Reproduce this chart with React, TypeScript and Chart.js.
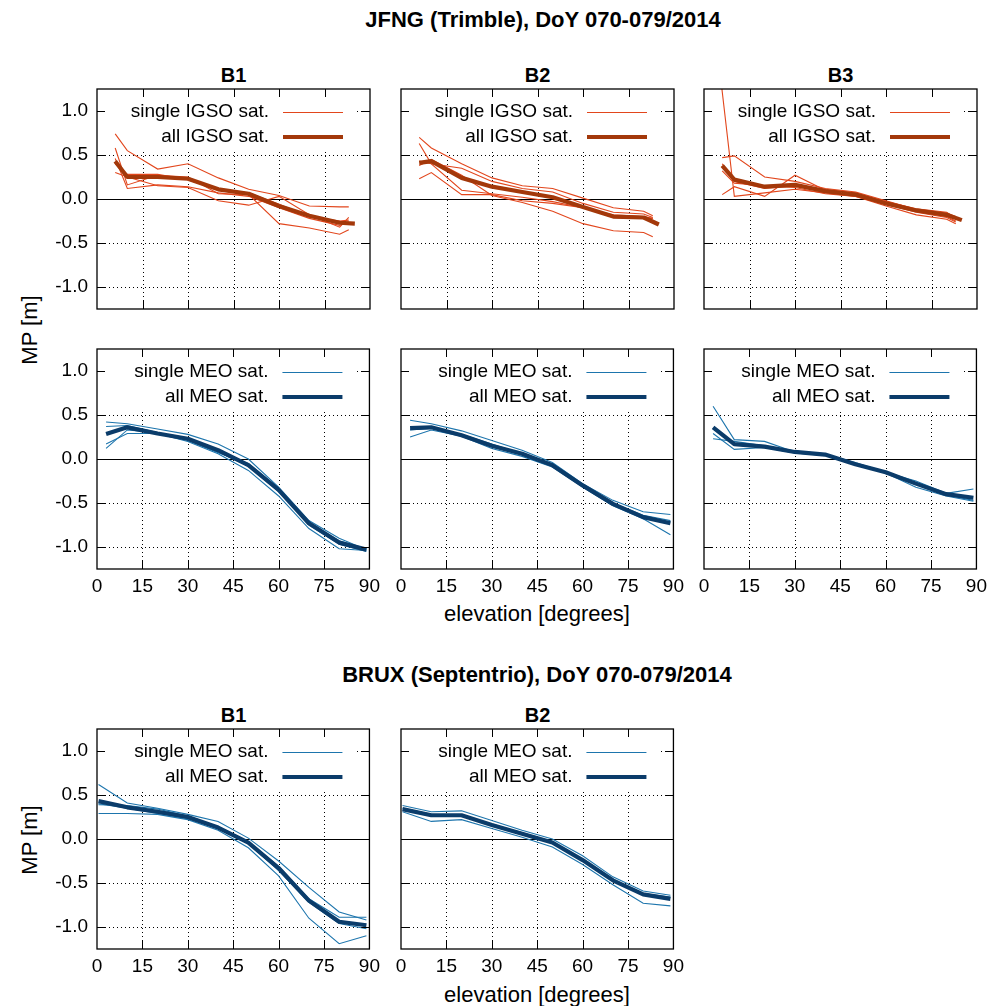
import React, { useEffect, useRef } from "react";
import { Chart, registerables } from "chart.js";

Chart.register(...registerables);

const FONT = '"Liberation Sans", Arial, Helvetica, sans-serif';

// ---------- axis ticks ----------
const elevationTicks = [0, 15, 30, 45, 60, 75, 90];
const mpTicks = [-1.0, -0.5, 0.0, 0.5, 1.0];

// ---------- JFNG (Trimble) IGSO ----------
const jfngIgsoElevAll = [6, 10, 20, 30, 40, 50, 60, 70, 80, 85];
const jfngIgsoElevSingle = [6, 10, 20, 30, 40, 50, 60, 70, 80, 83];
const jfngB3IgsoSpikeElev = [5, 10, 20, 30, 40, 50, 60, 70, 80, 83];

const jfngB1IgsoAll = [0.43, 0.25, 0.25, 0.23, 0.11, 0.06, -0.08, -0.19, -0.27, -0.28];
const jfngB1IgsoS1 = [0.74, 0.55, 0.34, 0.4, 0.24, 0.11, 0.04, -0.08, -0.09, -0.09];
const jfngB1IgsoS2 = [0.58, 0.16, 0.27, 0.25, 0.06, 0.05, -0.28, -0.33, -0.4, -0.35];
const jfngB1IgsoS3 = [0.3, 0.25, 0.15, 0.13, -0.02, -0.07, 0.03, -0.18, -0.32, -0.21];
const jfngB1IgsoS4 = [0.46, 0.12, 0.16, 0.14, 0.07, 0.03, -0.1, -0.22, -0.3, -0.26];
const jfngB1IgsoS5 = [0.4, 0.28, 0.28, 0.22, 0.1, 0.07, -0.06, -0.2, -0.25, -0.24];

const jfngB2IgsoAll = [0.41, 0.43, 0.24, 0.14, 0.08, 0.02, -0.09, -0.2, -0.21, -0.29];
const jfngB2IgsoS1 = [0.7, 0.58, 0.4, 0.24, 0.15, 0.12, 0.01, -0.1, -0.14, -0.19];
const jfngB2IgsoS2 = [0.63, 0.4, 0.1, 0.06, 0.02, -0.03, -0.1, -0.18, -0.2, -0.22];
const jfngB2IgsoS3 = [0.23, 0.3, 0.05, 0.05, -0.02, -0.05, -0.1, -0.21, -0.22, -0.22];
const jfngB2IgsoS4 = [0.38, 0.45, 0.27, 0.04, -0.04, -0.14, -0.28, -0.36, -0.38, -0.43];
const jfngB2IgsoS5 = [0.43, 0.4, 0.35, 0.2, 0.12, 0.08, -0.05, -0.15, -0.17, -0.21];

const jfngB3IgsoAll = [0.38, 0.22, 0.14, 0.16, 0.09, 0.05, -0.05, -0.13, -0.18, -0.24];
const jfngB3IgsoSpike = [1.52, 0.03, 0.07, 0.11, 0.07, 0.03, -0.06, -0.15, -0.21, -0.26];
const jfngB3IgsoS2 = [0.47, 0.49, 0.25, 0.2, 0.12, 0.08, -0.02, -0.12, -0.16, -0.2];
const jfngB3IgsoS3 = [0.05, 0.14, 0.03, 0.27, 0.1, 0.04, -0.05, -0.14, -0.2, -0.25];
const jfngB3IgsoS4 = [0.32, 0.18, 0.15, 0.13, 0.06, 0.03, -0.08, -0.18, -0.23, -0.28];
const jfngB3IgsoS5 = [0.4, 0.2, 0.12, 0.15, 0.11, 0.07, -0.03, -0.11, -0.15, -0.22];

// ---------- JFNG (Trimble) MEO ----------
const jfngMeoElev = [3, 10, 20, 30, 40, 50, 60, 70, 80, 89];

const jfngB1MeoAll = [0.285, 0.36, 0.29, 0.23, 0.1, -0.07, -0.35, -0.73, -0.95, -1.03];
const jfngB1MeoS1 = [0.42, 0.4, 0.34, 0.28, 0.17, 0.0, -0.32, -0.7, -0.9, -1.03];
const jfngB1MeoS2 = [0.37, 0.38, 0.3, 0.21, 0.07, -0.05, -0.33, -0.75, -0.97, -1.05];
const jfngB1MeoS3 = [0.17, 0.29, 0.29, 0.2, 0.06, -0.13, -0.42, -0.79, -1.02, -1.04];
const jfngB1MeoS4 = [0.12, 0.33, 0.3, 0.22, 0.08, -0.08, -0.37, -0.72, -0.93, -1.02];

const jfngB2MeoAll = [0.35, 0.36, 0.27, 0.15, 0.06, -0.07, -0.3, -0.51, -0.66, -0.73];
const jfngB2MeoS1 = [0.44, 0.4, 0.32, 0.21, 0.1, -0.04, -0.28, -0.47, -0.6, -0.63];
const jfngB2MeoS2 = [0.25, 0.33, 0.26, 0.12, 0.03, -0.09, -0.32, -0.53, -0.68, -0.86];
const jfngB2MeoS3 = [0.33, 0.35, 0.28, 0.17, 0.06, -0.06, -0.29, -0.5, -0.64, -0.7];

const jfngB3MeoAll = [0.36, 0.17, 0.14, 0.08, 0.05, -0.06, -0.15, -0.28, -0.4, -0.44];
const jfngB3MeoS1 = [0.6, 0.22, 0.2, 0.08, 0.05, -0.04, -0.15, -0.25, -0.39, -0.34];
const jfngB3MeoS2 = [0.29, 0.11, 0.13, 0.07, 0.04, -0.05, -0.16, -0.32, -0.42, -0.48];
const jfngB3MeoS3 = [0.23, 0.2, 0.15, 0.09, 0.06, -0.06, -0.15, -0.28, -0.41, -0.47];

// ---------- BRUX (Septentrio) MEO ----------
const bruxMeoElev = [0.5, 10, 20, 30, 40, 50, 60, 70, 80, 89];

const bruxB1MeoAll = [0.43, 0.36, 0.31, 0.25, 0.13, -0.04, -0.33, -0.7, -0.94, -0.98];
const bruxB1MeoS1 = [0.62, 0.41, 0.35, 0.28, 0.2, 0.01, -0.25, -0.55, -0.83, -0.92];
const bruxB1MeoS2 = [0.29, 0.29, 0.28, 0.22, 0.1, -0.1, -0.42, -0.9, -1.19, -1.1];
const bruxB1MeoS3 = [0.39, 0.38, 0.34, 0.26, 0.14, -0.03, -0.31, -0.68, -0.89, -0.89];
const bruxB1MeoS4 = [0.4, 0.35, 0.29, 0.23, 0.12, -0.05, -0.36, -0.72, -0.96, -1.02];

const bruxB2MeoAll = [0.34, 0.27, 0.27, 0.16, 0.06, -0.04, -0.24, -0.47, -0.63, -0.68];
const bruxB2MeoS1 = [0.38, 0.31, 0.32, 0.21, 0.1, 0.0, -0.19, -0.43, -0.59, -0.64];
const bruxB2MeoS2 = [0.31, 0.2, 0.22, 0.12, 0.02, -0.09, -0.29, -0.52, -0.73, -0.76];
const bruxB2MeoS3 = [0.35, 0.28, 0.27, 0.17, 0.07, -0.03, -0.23, -0.46, -0.62, -0.66];

// ---------- styles ----------
const COLORS = {
  IGSO: { thin: "#e2461c", thick: "#a3380a" },
  MEO: { thin: "#1d75ad", thick: "#0b3c6a" },
};

const PLOT_W = 273;
const PLOT_H = 220;
const AX_W = 60;
const AX_H = 40;
const PAD_T = 26;
const PAD_R = 16;
const CANVAS_W = AX_W + PLOT_W + PAD_R;
const CANVAS_H = PAD_T + PLOT_H + AX_H;

type Series = { elev: number[]; mp: number[] };
type Panel = {
  id: string;
  title: string;
  left: number;
  top: number;
  showY: boolean;
  showX: boolean;
  kind: "IGSO" | "MEO";
  elevAll: number[];
  all: number[];
  singles: Series[];
};

const colLeft = [97, 401, 704];
const rowTop = [89, 349, 729];

const panels: Panel[] = [
  {
    id: "jb1i", title: "B1", left: colLeft[0], top: rowTop[0], showY: true, showX: false, kind: "IGSO",
    elevAll: jfngIgsoElevAll, all: jfngB1IgsoAll,
    singles: [jfngB1IgsoS1, jfngB1IgsoS2, jfngB1IgsoS3, jfngB1IgsoS4, jfngB1IgsoS5].map((mp) => ({ elev: jfngIgsoElevSingle, mp })),
  },
  {
    id: "jb2i", title: "B2", left: colLeft[1], top: rowTop[0], showY: false, showX: false, kind: "IGSO",
    elevAll: jfngIgsoElevAll, all: jfngB2IgsoAll,
    singles: [jfngB2IgsoS1, jfngB2IgsoS2, jfngB2IgsoS3, jfngB2IgsoS4, jfngB2IgsoS5].map((mp) => ({ elev: jfngIgsoElevSingle, mp })),
  },
  {
    id: "jb3i", title: "B3", left: colLeft[2], top: rowTop[0], showY: false, showX: false, kind: "IGSO",
    elevAll: jfngIgsoElevAll, all: jfngB3IgsoAll,
    singles: [
      { elev: jfngB3IgsoSpikeElev, mp: jfngB3IgsoSpike },
      ...[jfngB3IgsoS2, jfngB3IgsoS3, jfngB3IgsoS4, jfngB3IgsoS5].map((mp) => ({ elev: jfngIgsoElevSingle, mp })),
    ],
  },
  {
    id: "jb1m", title: "", left: colLeft[0], top: rowTop[1], showY: true, showX: true, kind: "MEO",
    elevAll: jfngMeoElev, all: jfngB1MeoAll,
    singles: [jfngB1MeoS1, jfngB1MeoS2, jfngB1MeoS3, jfngB1MeoS4].map((mp) => ({ elev: jfngMeoElev, mp })),
  },
  {
    id: "jb2m", title: "", left: colLeft[1], top: rowTop[1], showY: false, showX: true, kind: "MEO",
    elevAll: jfngMeoElev, all: jfngB2MeoAll,
    singles: [jfngB2MeoS1, jfngB2MeoS2, jfngB2MeoS3].map((mp) => ({ elev: jfngMeoElev, mp })),
  },
  {
    id: "jb3m", title: "", left: colLeft[2], top: rowTop[1], showY: false, showX: true, kind: "MEO",
    elevAll: jfngMeoElev, all: jfngB3MeoAll,
    singles: [jfngB3MeoS1, jfngB3MeoS2, jfngB3MeoS3].map((mp) => ({ elev: jfngMeoElev, mp })),
  },
  {
    id: "bb1m", title: "B1", left: colLeft[0], top: rowTop[2], showY: true, showX: true, kind: "MEO",
    elevAll: bruxMeoElev, all: bruxB1MeoAll,
    singles: [bruxB1MeoS1, bruxB1MeoS2, bruxB1MeoS3, bruxB1MeoS4].map((mp) => ({ elev: bruxMeoElev, mp })),
  },
  {
    id: "bb2m", title: "B2", left: colLeft[1], top: rowTop[2], showY: false, showX: true, kind: "MEO",
    elevAll: bruxMeoElev, all: bruxB2MeoAll,
    singles: [bruxB2MeoS1, bruxB2MeoS2, bruxB2MeoS3].map((mp) => ({ elev: bruxMeoElev, mp })),
  },
];

function makeDecor(kind: "IGSO" | "MEO") {
  const col = COLORS[kind];
  return {
    id: "gnuplotDecor",
    beforeDatasetsDraw(chart: any) {
      const { ctx, chartArea: a, scales } = chart;
      const xs = scales.x;
      const ys = scales.y;
      ctx.save();
      ctx.strokeStyle = "#000";
      ctx.lineWidth = 1;
      ctx.setLineDash([1, 3]);
      ctx.beginPath();
      for (const v of elevationTicks) {
        if (v <= 0 || v >= 90) continue;
        const px = Math.round(xs.getPixelForValue(v)) + 0.5;
        ctx.moveTo(px, a.bottom);
        ctx.lineTo(px, a.top);
      }
      for (const v of mpTicks) {
        if (v === 0) continue;
        const py = Math.round(ys.getPixelForValue(v)) + 0.5;
        ctx.moveTo(a.left, py);
        ctx.lineTo(a.right, py);
      }
      ctx.stroke();
      ctx.setLineDash([]);
      // opaque key background hides grid
      ctx.fillStyle = "#fff";
      ctx.fillRect(a.left + 1, a.top + 1, a.right - a.left - 15, 60);
      // zero axis
      const zy = Math.round(ys.getPixelForValue(0)) + 0.5;
      ctx.beginPath();
      ctx.moveTo(a.left, zy);
      ctx.lineTo(a.right, zy);
      ctx.stroke();
      ctx.restore();
    },
    afterDatasetsDraw(chart: any) {
      const { ctx, chartArea: a, scales } = chart;
      const xs = scales.x;
      const ys = scales.y;
      ctx.save();
      ctx.strokeStyle = "#000";
      ctx.lineWidth = 1.3;
      ctx.strokeRect(a.left, a.top, a.right - a.left, a.bottom - a.top);
      ctx.lineWidth = 1;
      ctx.beginPath();
      const T = 8;
      for (const v of elevationTicks) {
        if (v <= 0 || v >= 90) continue;
        const px = Math.round(xs.getPixelForValue(v)) + 0.5;
        ctx.moveTo(px, a.bottom);
        ctx.lineTo(px, a.bottom - T);
        ctx.moveTo(px, a.top);
        ctx.lineTo(px, a.top + T);
      }
      for (const v of mpTicks) {
        const py = Math.round(ys.getPixelForValue(v)) + 0.5;
        ctx.moveTo(a.left, py);
        ctx.lineTo(a.left + T, py);
        ctx.moveTo(a.right, py);
        ctx.lineTo(a.right - T, py);
      }
      ctx.stroke();
      // key
      ctx.font = `19px ${FONT}`;
      ctx.fillStyle = "#000";
      ctx.textAlign = "right";
      ctx.textBaseline = "middle";
      const r1 = a.top + 22.5;
      const r2 = a.top + 48;
      ctx.fillText(`single ${kind} sat.`, a.right - 101, r1);
      ctx.fillText(`all ${kind} sat.`, a.right - 101, r2);
      ctx.strokeStyle = col.thin;
      ctx.lineWidth = 1.2;
      ctx.beginPath();
      ctx.moveTo(a.right - 87, Math.round(r1) + 0.5);
      ctx.lineTo(a.right - 27, Math.round(r1) + 0.5);
      ctx.stroke();
      ctx.strokeStyle = col.thick;
      ctx.lineWidth = 4;
      ctx.beginPath();
      ctx.moveTo(a.right - 87, Math.round(r2));
      ctx.lineTo(a.right - 27, Math.round(r2));
      ctx.stroke();
      ctx.restore();
    },
  };
}

function PanelChart({ p }: { p: Panel }) {
  const ref = useRef<HTMLCanvasElement>(null);
  useEffect(() => {
    if (!ref.current) return;
    const col = COLORS[p.kind];
    const datasets: any[] = [
      {
        label: `all ${p.kind} sat.`,
        data: p.elevAll.map((x, i) => ({ x, y: p.all[i] })),
        borderColor: col.thick,
        borderWidth: 4.2,
        pointRadius: 0,
        tension: 0,
        clip: 0,
        borderJoinStyle: "round",
      },
      ...p.singles.map((s) => ({
        label: `single ${p.kind} sat.`,
        data: s.elev.map((x, i) => ({ x, y: s.mp[i] })),
        borderColor: col.thin,
        borderWidth: 1.1,
        pointRadius: 0,
        tension: 0,
        clip: 0,
      })),
    ];
    const tickFont = { family: FONT, size: 19 };
    const chart = new Chart(ref.current, {
      type: "line",
      data: { datasets },
      options: {
        animation: false,
        responsive: false,
        devicePixelRatio: 1,
        layout: { padding: { left: 0, top: PAD_T, right: PAD_R, bottom: 0 } },
        plugins: {
          legend: { display: false },
          tooltip: { enabled: false },
          title: { display: false },
        },
        scales: {
          x: {
            type: "linear",
            min: 0,
            max: 90,
            afterBuildTicks: (s: any) => {
              s.ticks = elevationTicks.map((v) => ({ value: v }));
            },
            afterFit: (s: any) => {
              s.height = AX_H;
            },
            grid: { display: false, drawTicks: false },
            border: { display: false },
            ticks: {
              padding: 6,
              color: "#000",
              font: tickFont,
              maxRotation: 0,
              autoSkip: false,
              callback: (v: any) => (p.showX ? String(v) : ""),
            },
          },
          y: {
            type: "linear",
            min: -1.25,
            max: 1.25,
            afterBuildTicks: (s: any) => {
              s.ticks = mpTicks.map((v) => ({ value: v }));
            },
            afterFit: (s: any) => {
              s.width = AX_W;
            },
            grid: { display: false, drawTicks: false },
            border: { display: false },
            ticks: {
              padding: 9,
              color: "#000",
              font: tickFont,
              autoSkip: false,
              callback: (v: any) => (p.showY ? Number(v).toFixed(1) : ""),
            },
          },
        },
      } as any,
      plugins: [makeDecor(p.kind)],
    });
    return () => chart.destroy();
  }, [p]);
  return (
    <canvas
      ref={ref}
      width={CANVAS_W}
      height={CANVAS_H}
      style={{ position: "absolute", left: p.left - AX_W, top: p.top - PAD_T, width: CANVAS_W, height: CANVAS_H }}
    />
  );
}

function Label({ x, y, text, bold, rotate, size }: { x: number; y: number; text: string; bold?: boolean; rotate?: boolean; size?: number }) {
  return (
    <div
      style={{
        position: "absolute",
        left: x,
        top: y,
        transform: `translate(-50%, -50%)${rotate ? " rotate(-90deg)" : ""}`,
        fontSize: size || 19,
        fontWeight: bold ? "bold" : "normal",
        fontFamily: FONT,
        whiteSpace: "nowrap",
        lineHeight: 1,
        color: "#000",
      }}
    >
      {text}
    </div>
  );
}

export default function App() {
  return (
    <div style={{ position: "absolute", left: 0, top: 0, width: 1000, height: 1006, background: "#fff", overflow: "hidden" }}>
      <Label x={543} y={20} text="JFNG (Trimble), DoY 070-079/2014" bold size={22} />
      <Label x={537} y={675} text="BRUX (Septentrio), DoY 070-079/2014" bold size={22} />
      {panels.map((p) =>
        p.title ? <Label key={"t" + p.id} x={p.left + PLOT_W / 2} y={p.top - 14} text={p.title} bold size={20} /> : null
      )}
      <Label x={30} y={330} text="MP [m]" rotate size={22} />
      <Label x={30} y={840} text="MP [m]" rotate size={22} />
      <Label x={537} y={614} text="elevation [degrees]" size={22} />
      <Label x={537} y={995} text="elevation [degrees]" size={22} />
      {panels.map((p) => (
        <PanelChart key={p.id} p={p} />
      ))}
    </div>
  );
}
